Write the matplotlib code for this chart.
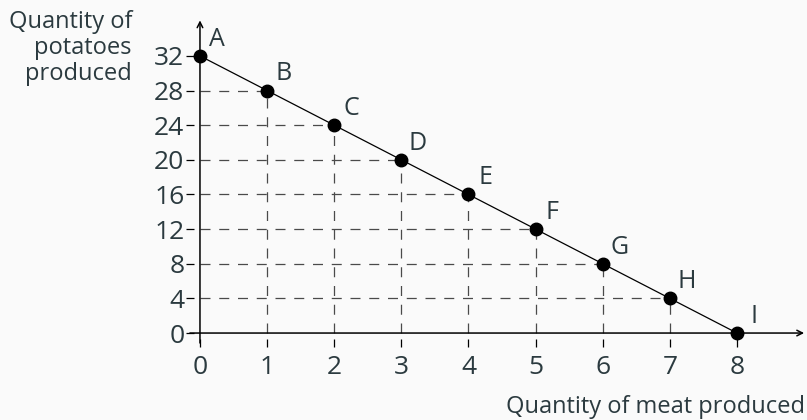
import matplotlib.pyplot as plt

# datos del grafico (frontera de posibilidades)
meat = [0, 1, 2, 3, 4, 5, 6, 7, 8]
potatoes = [32, 28, 24, 20, 16, 12, 8, 4, 0]
letras = ["A", "B", "C", "D", "E", "F", "G", "H", "I"]
xticks = [0, 1, 2, 3, 4, 5, 6, 7, 8]
yticks = [0, 4, 8, 12, 16, 20, 24, 28, 32]

txt = "#2b3a3f"
plt.rcParams['font.family'] = ['Open Sans', 'DejaVu Sans']

fig = plt.figure(figsize=(8.07, 4.2), dpi=100, facecolor="#fafafa")
ax = fig.add_axes([189.9 / 807, 77 / 420, 614.2 / 807, 322.6 / 420])
ax.set_facecolor("#fafafa")
ax.set_xlim(-0.15, 9.0)
ax.set_ylim(-1.15, 36.1)
for s in ax.spines.values():
    s.set_visible(False)

# ejes con flechas
ax.annotate("", xy=(9.0, 0), xytext=(-0.15, 0),
            arrowprops=dict(arrowstyle="->", lw=1.1, color="black", shrinkA=0, shrinkB=0))
ax.annotate("", xy=(0, 36.1), xytext=(0, -1.15),
            arrowprops=dict(arrowstyle="->", lw=1.1, color="black", shrinkA=0, shrinkB=0))

# lineas punteadas
for x, y in zip(meat, potatoes):
    if x > 0 and y > 0:
        ax.plot([0, x], [y, y], ls=(0, (8, 7)), color="#4a4a4a", lw=0.9, zorder=1)
        ax.plot([x, x], [0, y], ls=(0, (8, 7)), color="#4a4a4a", lw=0.9, zorder=1)

ax.plot(meat, potatoes, color="black", lw=0.9, zorder=2)
ax.plot(meat, potatoes, "o", color="black", ms=9, zorder=3)

for x, y, l in zip(meat, potatoes, letras):
    ax.annotate(l, (x, y), xytext=(12, 12), textcoords="offset points",
                ha="center", va="center", fontsize=18, color=txt)

ax.set_xticks(xticks)
ax.set_yticks(yticks)
ax.tick_params(direction="inout", length=6, width=0.9, labelsize=19,
               labelcolor=txt, pad=1)
ax.tick_params(axis="x", pad=6)

fig.text(132 / 807, 1 - 48 / 420, "Quantity of\npotatoes\nproduced", ha="right",
         va="center", fontsize=17, color=txt, linespacing=1.1)
fig.text(805 / 807, 1 - 407 / 420, "Quantity of meat produced", ha="right",
         va="center", fontsize=17, color=txt)

fig.savefig("out.png", dpi=100, facecolor=fig.get_facecolor())
